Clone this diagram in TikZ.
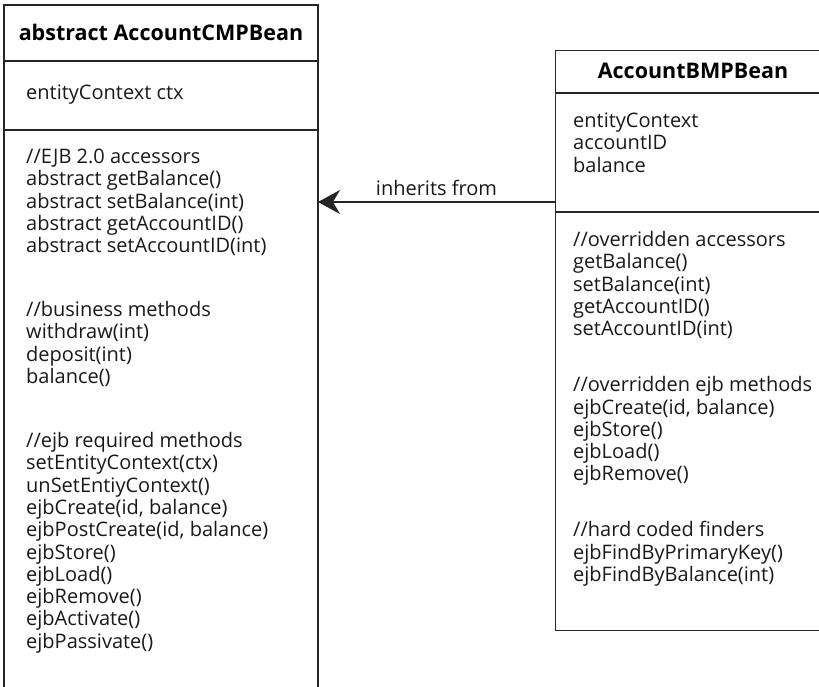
\documentclass[tikz,border=0pt]{standalone}
\usepackage{fontspec}
\setmainfont{Open Sans}
\usetikzlibrary{arrows.meta}
\tikzset{
  txt/.style={inner sep=0pt, anchor=base west, font=\fontsize{20}{22}\selectfont, text=black!90},
  hdr/.style={inner sep=0pt, anchor=base, font=\fontsize{21.5}{24}\selectfont\bfseries, text=black},
  boxline/.style={line width=1.4pt, black!85},
  inherit/.style={line width=1.1pt, black!85, -{Stealth[length=22pt, width=24pt, inset=7pt]}}
}
\newcommand\textlines[4]{%
  \foreach \t [count=\i from 0] in {#4} {
    \node[txt] (#3\i) at (#1, {#2 - \i*22.3}) {\t};
  }%
}
\begin{document}
\begin{tikzpicture}[x=1pt,y=1pt]
\useasboundingbox (0,0) rectangle (819,-687);
% left class (open at bottom)
\coordinate (LTL) at (4,-5);
\coordinate (LTR) at (318,-5);
\coordinate (LBL) at (4,-700);
\coordinate (LBR) at (318,-700);
\draw[boxline] (LBL) -- (LTL) -- (LTR) -- (LBR);
\coordinate (LS1a) at (4,-61); \coordinate (LS1b) at (318,-61);
\coordinate (LS2a) at (4,-130); \coordinate (LS2b) at (318,-130);
\draw[boxline] (LS1a) -- (LS1b);
\draw[boxline] (LS2a) -- (LS2b);
\node[hdr] (lhead) at (161,-40.5) {abstract AccountCMPBean};
\node[txt] (lattr) at (26,-99.5) {entityContext ctx};
\textlines{26}{-163.4}{la}{//EJB 2.0 accessors, abstract getBalance(), abstract setBalance(int), abstract getAccountID(), abstract setAccountID(int)}
\textlines{26}{-316.6}{lb}{//business methods, withdraw(int), deposit(int), balance()}
\textlines{26}{-447.5}{lc}{//ejb required methods, setEntityContext(ctx), unSetEntiyContext(), {ejbCreate(id, balance)}, {ejbPostCreate(id, balance)}, ejbStore(), ejbLoad(), ejbRemove(), ejbActivate(), ejbPassivate()}
% right class
\node[draw, boxline, inner sep=0pt, minimum width=276, minimum height=580, anchor=north west] (rbox) at (555,-50) {};
\coordinate (RS1a) at (555,-93); \coordinate (RS1b) at (831,-93);
\coordinate (RS2a) at (555,-212); \coordinate (RS2b) at (831,-212);
\draw[boxline] (RS1a) -- (RS1b);
\draw[boxline] (RS2a) -- (RS2b);
\node[hdr] (rhead) at (693,-78.5) {AccountBMPBean};
\textlines{573}{-127.5}{ra}{entityContext, accountID, balance}
\textlines{573}{-246.5}{rb}{//overridden accessors, getBalance(), setBalance(int), getAccountID(), setAccountID(int)}
\textlines{573}{-391.7}{rc}{//overridden ejb methods, {ejbCreate(id, balance)}, ejbStore(), ejbLoad(), ejbRemove()}
\textlines{573}{-536.9}{rd}{//hard coded finders, ejbFindByPrimaryKey(), ejbFindByBalance(int)}
% inheritance
\coordinate (arrtip) at (318,-202);
\draw[inherit] (rbox.west |- arrtip) -- (arrtip) node[midway, above=6pt, font=\fontsize{20}{22}\selectfont, text=black!90, inner sep=0pt] (lbl) {inherits from};
\end{tikzpicture}
\end{document}
